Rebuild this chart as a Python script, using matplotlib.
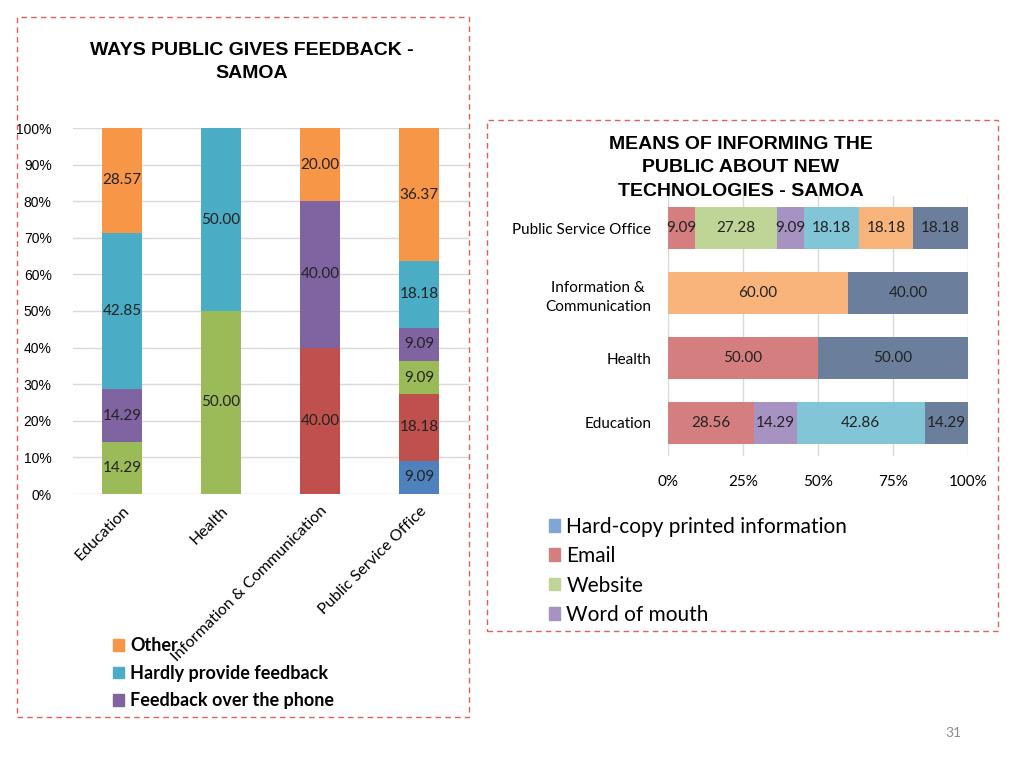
import numpy as np
import matplotlib.pyplot as plt
from matplotlib.patches import Rectangle, Patch

plt.rcParams['font.family'] = ['Lato', 'DejaVu Sans']

# left chart: ways public gives feedback
cats_left = ['Education', 'Health', 'Information & Communication', 'Public Service Office']
left_names = ['Hard-copy', 'Email', 'Website', 'Feedback over the phone',
              'Hardly provide feedback', 'Other']
hardcopy_l = [0, 0, 0, 9.09]
email_l = [0, 0, 40.00, 18.18]
website_l = [14.29, 50.00, 0, 9.09]
phone_l = [14.29, 0, 40.00, 9.09]
hardly_l = [42.85, 50.00, 0, 18.18]
other_l = [28.57, 0, 20.00, 36.37]
left_series = [hardcopy_l, email_l, website_l, phone_l, hardly_l, other_l]
left_colors = ['#4F81BD', '#C0504D', '#9BBB59', '#8064A2', '#4BACC6', '#F79646']

# right chart: means of informing the public
cats_right = ['Education', 'Health', 'Information &\nCommunication', 'Public Service Office']
right_names = ['Hard-copy printed information', 'Email', 'Website', 'Word of mouth',
               'Radio', 'Television', 'Other']
hardcopy_r = [0, 0, 0, 0]
email_r = [28.56, 50.00, 0, 9.09]
website_r = [0, 0, 0, 27.28]
word_r = [14.29, 0, 0, 9.09]
teal_r = [42.86, 0, 0, 18.18]
orange_r = [0, 0, 60.00, 18.18]
slate_r = [14.29, 50.00, 40.00, 18.18]
right_series = [hardcopy_r, email_r, website_r, word_r, teal_r, orange_r, slate_r]
right_colors = ['#7FA6D4', '#D47E7F', '#BFD497', '#A793C2', '#82C5D7', '#F9B47C', '#6B7F9D']

fig = plt.figure(figsize=(10.24, 7.68), dpi=100)

# dashed boxes
W, H = 1024, 768
for (x0, y0, x1, y1) in [(17, 17, 469, 717), (487, 120, 998, 631)]:
    fig.patches.append(Rectangle((x0 / W, 1 - y1 / H), (x1 - x0) / W, (y1 - y0) / H,
                                 transform=fig.transFigure, fill=False,
                                 edgecolor='#E0605A', lw=1.0, linestyle=(0, (4, 3))))

# ---- left stacked columns
ax1 = fig.add_axes([72.5 / W, 1 - 494 / H, 396 / W, 366 / H])
x = np.arange(len(cats_left))
bottom = np.zeros(len(cats_left))
for vals, col in zip(left_series, left_colors):
    vals = np.array(vals)
    ax1.bar(x, vals, 0.4, bottom=bottom, color=col, zorder=3)
    for i, v in enumerate(vals):
        if v > 0:
            ax1.text(x[i], bottom[i] + v / 2, '%.2f' % v, ha='center', va='center',
                     fontsize=11, color='#222222', zorder=4)
    bottom += vals
ax1.set_xlim(-0.5, 3.5)
ax1.set_ylim(0, 100)
ax1.set_yticks(np.arange(0, 101, 10))
ax1.set_yticklabels(['%d%%' % t for t in range(0, 101, 10)], fontsize=10,
                    family=['Liberation Sans'])
ax1.yaxis.grid(True, color='#D9D9D9', lw=1, zorder=0)
ax1.set_xticks(x)
ax1.set_xticklabels(cats_left, rotation=45, ha='right', rotation_mode='anchor', fontsize=11.5)
ax1.tick_params(length=0)
ax1.tick_params(axis='y', pad=15)
ax1.tick_params(axis='x', pad=7)
for s in ax1.spines.values():
    s.set_visible(False)

fig.text(252 / W, 1 - 62 / H, 'WAYS PUBLIC GIVES FEEDBACK -\nSAMOA', ha='center', va='center',
         fontsize=14, fontweight='bold', family=['Liberation Sans'], linespacing=1.5)

handles = [Patch(color=left_colors[k], label=left_names[k]) for k in (5, 4, 3)]
fig.legend(handles=handles, loc='upper left', bbox_to_anchor=(97 / W, 1 - 621 / H),
           frameon=False, prop={'weight': 'bold', 'size': 13},
           handlelength=0.6, handleheight=0.6, handletextpad=0.35, labelspacing=0.58)

# ---- right stacked horizontal bars
ax2 = fig.add_axes([668 / W, 1 - 455.5 / H, 300 / W, 260 / H])
y = np.arange(len(cats_right))
left = np.zeros(len(cats_right))
for vals, col in zip(right_series, right_colors):
    vals = np.array(vals)
    ax2.barh(y, vals, 0.66, left=left, color=col, zorder=3)
    for i, v in enumerate(vals):
        if v > 0:
            ax2.text(left[i] + v / 2, y[i], '%.2f' % v, ha='center', va='center',
                     fontsize=11, color='#222222', zorder=4)
    left += vals
ax2.set_xlim(0, 100)
ax2.set_ylim(-0.5, 3.5)
ax2.set_xticks([0, 25, 50, 75, 100])
ax2.set_xticklabels(['0%', '25%', '50%', '75%', '100%'], fontsize=11)
ax2.xaxis.grid(True, color='#D9D9D9', lw=1, zorder=0)
ax2.set_yticks(y)
ax2.set_yticklabels(cats_right, fontsize=11, multialignment='center', linespacing=1.5)
ax2.tick_params(length=0)
ax2.tick_params(axis='x', pad=14)
ax2.tick_params(axis='y', pad=12)
for s in ax2.spines.values():
    s.set_visible(False)

fig.text(741 / W, 1 - 168 / H, 'MEANS OF INFORMING THE\nPUBLIC ABOUT NEW\nTECHNOLOGIES - SAMOA',
         ha='center', va='center', fontsize=14, fontweight='bold',
         family=['Liberation Sans'], linespacing=1.5)

handles2 = [Patch(color=right_colors[k], label=right_names[k]) for k in range(4)]
fig.legend(handles=handles2, loc='upper left', bbox_to_anchor=(530 / W, 1 - 498 / H),
           frameon=False, prop={'size': 15},
           handlelength=0.55, handleheight=0.55, handletextpad=0.3, labelspacing=0.45)

fig.text(953 / W, 1 - 733 / H, '31', ha='center', va='center', fontsize=10, color='#8C8C8C')

fig.savefig('out.png', dpi=100)
